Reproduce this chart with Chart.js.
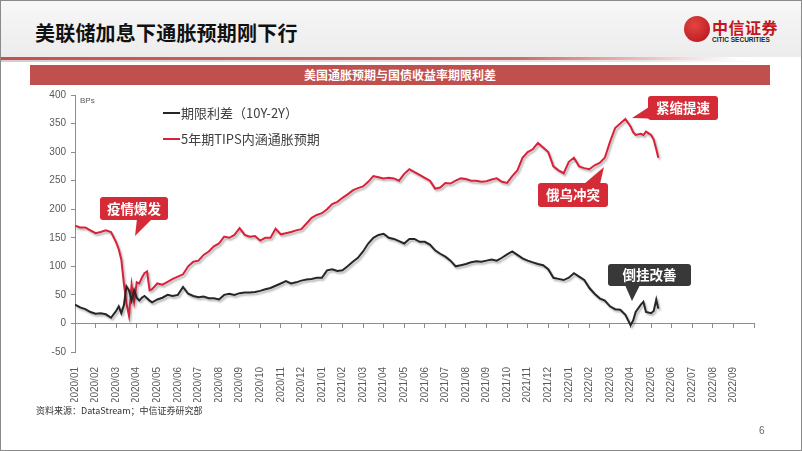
<!DOCTYPE html>
<html>
<head>
<meta charset="utf-8">
<script src="https://cdn.jsdelivr.net/npm/chart.js@4.4.0/dist/chart.umd.min.js"></script>
<style>
  html, body { margin: 0; padding: 0; }
  body { width: 802px; height: 451px; position: relative; overflow: hidden; background: #fff;
         font-family: "Noto Sans CJK SC", "Noto Sans", sans-serif; }
  #frame { position: absolute; left: 0; top: 0; width: 800px; height: 449px; border: 1px solid #8a8a8a; }
  #head { position: absolute; left: 1px; top: 1px; width: 800px; height: 56px;
          background: linear-gradient(#f7f7f7, #ececec); }
  #title { position: absolute; left: 35px; top: 18px; font-size: 20px; font-weight: 700; color: #111; letter-spacing: 0.2px; }
  #redline { position: absolute; left: 1px; top: 57px; width: 800px; height: 3px;
             background: linear-gradient(to right, #c8504d 0%, #d06a66 65%, rgba(220,150,150,0) 92%); }
  #greyline { position: absolute; left: 1px; top: 60px; width: 800px; height: 2px;
              background: linear-gradient(to right, #cfcfcf 0%, #e6e6e6 80%, rgba(255,255,255,0) 95%); }
  #logo-c { position: absolute; left: 684px; top: 16px; width: 26px; height: 26px; border-radius: 50%;
            background: radial-gradient(circle at 40% 35%, #e2463f, #b3121c); }
  #logo-t { position: absolute; left: 712px; top: 15px; font-size: 16px; font-weight: 700; color: #c4161c; letter-spacing: 0.5px; }
  #logo-e { position: absolute; left: 712px; top: 36px; font-size: 6.5px; font-weight: 700; color: #222; font-family: "Liberation Sans", sans-serif; }
  #bar { position: absolute; left: 30px; top: 65px; width: 740px; height: 20px; background: #c0504d;
         color: #fff; font-size: 12px; font-weight: 700; text-align: center; line-height: 20px; }
  #chart { position: absolute; left: 0; top: 0; }
  #bps { position: absolute; left: 80px; top: 96px; font-size: 8px; color: #595959; font-family: "Liberation Sans", sans-serif; }
  .leg { position: absolute; left: 163px; font-size: 13px; color: #404040; text-spacing-trim: space-all; white-space: nowrap; }
  .leg i { display: inline-block; width: 17px; height: 2px; vertical-align: middle; margin-right: 1px; position: relative; top: -1px; }
  #src { position: absolute; left: 36px; top: 404px; font-size: 9px; color: #333; }
  #page { position: absolute; left: 759px; top: 425px; font-size: 10px; color: #666; font-family: "Liberation Sans", sans-serif; }
  svg { position: absolute; left: 0; top: 0; }
</style>
</head>
<body>
<div id="frame"></div>
<div id="head"></div>
<div id="title">美联储加息下通胀预期刚下行</div>
<div id="redline"></div>
<div id="greyline"></div>
<div id="logo-c"></div>
<div id="logo-t">中信证券</div>
<div id="logo-e">CITIC SECURITIES</div>
<div id="bar">美国通胀预期与国债收益率期限利差</div>
<canvas id="chart" width="802" height="451"></canvas>
<div id="bps">BPs</div>
<div class="leg" id="leg0" style="top:103px"></div>
<div class="leg" id="leg1" style="top:129px"></div>
<svg width="802" height="451">
  <g font-family="Noto Sans CJK SC" font-size="13.5" font-weight="700" fill="#fff" text-anchor="middle">
    <rect x="100" y="197" width="68" height="23" rx="3" fill="#d52b36"/>
    <polygon points="137,219 152,219 135,236" fill="#d52b36"/>
    <text x="134" y="213.5">疫情爆发</text>
    <rect x="648" y="96" width="70" height="24" rx="3" fill="#d52b36"/>
    <polygon points="649,107 664,119 632,118" fill="#d52b36"/>
    <text x="683" y="113">紧缩提速</text>
    <rect x="538" y="183" width="70" height="24" rx="3" fill="#d52b36"/>
    <polygon points="584,184 600,184 604,167" fill="#d52b36"/>
    <text x="573" y="200">俄乌冲突</text>
    <rect x="608" y="264" width="83" height="22" rx="3" fill="#383838"/>
    <polygon points="625,285 640,285 632,301" fill="#383838"/>
    <text x="649.5" y="280">倒挂改善</text>
  </g>
</svg>
<div id="src">资料来源：DataStream；中信证券研究部</div>
<div id="page">6</div>
<script>
// 横轴刻度（每月一个）
const monthLabels = ["2020/01","2020/02","2020/03","2020/04","2020/05","2020/06","2020/07","2020/08","2020/09","2020/10","2020/11","2020/12",
  "2021/01","2021/02","2021/03","2021/04","2021/05","2021/06","2021/07","2021/08","2021/09","2021/10","2021/11","2021/12",
  "2022/01","2022/02","2022/03","2022/04","2022/05","2022/06","2022/07","2022/08","2022/09"];

const seriesNames = ["期限利差（10Y-2Y）", "5年期TIPS内涵通胀预期"];

// 观测时间，按月计（0 = 2020/01 月初）
const months = [0,0.25,0.5,0.75,1,1.25,1.5,1.75,2,2.125,2.25,2.375,2.5,2.625,2.75,2.875,3,3.125,3.25,3.375,3.5,3.625,3.75,
  4,4.25,4.5,4.75,5,5.25,5.5,5.75,6,6.25,6.5,6.75,7,7.25,7.5,7.75,8,8.25,8.5,8.75,9,9.25,9.5,9.75,10,10.25,10.5,10.75,
  11,11.25,11.5,11.75,12,12.25,12.5,12.75,13,13.25,13.5,13.75,14,14.25,14.5,14.75,15,15.25,15.5,15.75,16,16.25,16.5,16.75,
  17,17.25,17.5,17.75,18,18.25,18.5,18.75,19,19.25,19.5,19.75,20,20.25,20.5,20.75,21,21.25,21.5,21.75,22,22.25,22.5,22.75,
  23,23.25,23.5,23.75,24,24.25,24.5,24.75,25,25.25,25.5,25.75,26,26.25,26.5,26.75,27,27.125,27.25,27.5,27.625,27.75,
  28,28.125,28.25,28.35];

// 期限利差 10Y-2Y (bp)
const spread = [33,28,25,20,17,18,16,10,22,30,18,32,65,58,40,58,45,40,45,48,44,40,37,
  42,45,50,48,50,64,52,48,46,47,44,44,42,50,52,50,53,54,54,55,57,60,62,66,70,74,70,72,
  75,77,78,80,80,93,95,92,93,100,108,115,126,140,150,155,157,150,148,144,140,148,148,143,
  143,138,128,122,117,110,100,102,104,107,109,108,110,112,110,115,121,126,120,114,110,107,104,102,
  95,80,78,76,80,88,82,76,62,52,44,40,30,25,24,15,-3,5,20,33,38,20,
  18,22,42,26];

// 5年期TIPS隐含通胀预期 (bp)
const tips = [171,168,168,163,158,160,163,160,142,130,112,70,35,13,68,38,72,70,80,88,91,58,60,
  70,68,73,78,82,86,100,108,110,120,126,135,140,152,150,155,167,155,152,153,145,150,150,166,156,158,160,163,
  165,175,185,190,193,200,209,213,220,226,233,237,240,248,258,256,254,255,254,250,262,270,265,260,
  255,250,236,238,246,245,250,254,253,250,250,248,249,252,254,248,246,258,268,290,300,305,316,308,
  300,275,268,263,283,290,275,272,270,277,281,290,318,342,350,358,345,335,330,332,330,336,
  330,322,305,290];

const colors = ["#262626", "#d9213a"];

document.getElementById("leg0").innerHTML = `<i style="background:${colors[0]}"></i>${seriesNames[0]}`;
document.getElementById("leg1").innerHTML = `<i style="background:${colors[1]}"></i>${seriesNames[1]}`;

const shadow = {
    id: "shadow",
    beforeDatasetDraw(chart) {
        const c = chart.ctx;
        c.save();
        c.shadowColor = "rgba(0,0,0,0.3)";
        c.shadowBlur = 2;
        c.shadowOffsetX = 1.5;
        c.shadowOffsetY = 2;
    },
    afterDatasetDraw(chart) {
        chart.ctx.restore();
    }
};

const axisGrey = "#8c8c8c";

new Chart(document.getElementById("chart"), {
    type: "line",
    data: {
        datasets: [
            { label: seriesNames[0], data: months.map((m, i) => ({ x: m, y: spread[i] })),
              borderColor: colors[0], borderWidth: 2, pointRadius: 0, tension: 0 },
            { label: seriesNames[1], data: months.map((m, i) => ({ x: m, y: tips[i] })),
              borderColor: colors[1], borderWidth: 2, pointRadius: 0, tension: 0 }
        ]
    },
    options: {
        responsive: false,
        animation: false,
        devicePixelRatio: 1,
        layout: { padding: { left: 30, right: 48, top: 95, bottom: 49 } },
        plugins: { legend: { display: false }, tooltip: { enabled: false } },
        scales: {
            x: {
                type: "linear", min: 0, max: 33,
                grid: { display: false },
                border: { display: false },
                ticks: {
                    stepSize: 1, autoSkip: false, minRotation: 90, maxRotation: 90, padding: 7,
                    color: "#595959", font: { family: "Liberation Sans", size: 10 },
                    callback: v => monthLabels[v] || ""
                },
                afterFit: s => { s.height = 50; }
            },
            x0: {
                type: "linear", min: 0, max: 33, position: { y: 0 },
                ticks: { display: false, stepSize: 1 },
                grid: { drawOnChartArea: false, drawTicks: true, tickLength: 4, tickColor: axisGrey },
                border: { color: axisGrey, width: 1 },
                afterFit: s => { s.height = 0; }
            },
            y: {
                min: -50, max: 400,
                grid: { drawOnChartArea: false, drawTicks: true, tickLength: 4, tickColor: axisGrey },
                border: { color: axisGrey, width: 1 },
                ticks: { stepSize: 50, padding: 5, color: "#595959", font: { family: "Liberation Sans", size: 10 } },
                afterFit: s => { s.width = 45; }
            }
        }
    },
    plugins: [shadow]
});
</script>
</body>
</html>
